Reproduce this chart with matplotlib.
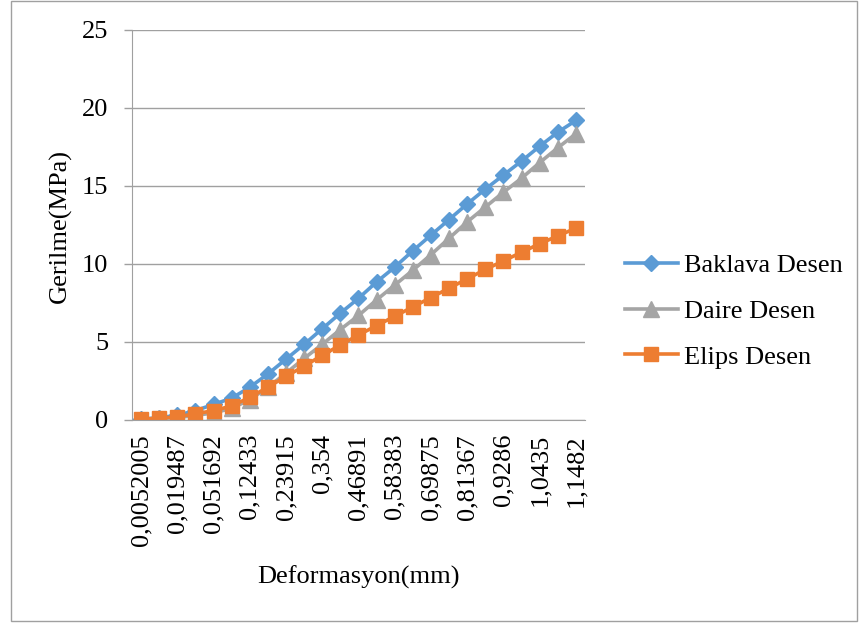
import matplotlib
matplotlib.use("Agg")
import matplotlib.pyplot as plt
import numpy as np

# 25 measurement points, only every other one is labelled on the axis
tick_labels = ["0,0052005", "0,019487", "0,051692", "0,12433", "0,23915", "0,354",
               "0,46891", "0,58383", "0,69875", "0,81367", "0,9286", "1,0435", "1,1482"]

baklava = [0.05, 0.15, 0.3, 0.6, 1.0, 1.4, 2.1, 2.95, 3.9, 4.85, 5.85, 6.85, 7.8,
           8.85, 9.8, 10.85, 11.85, 12.85, 13.85, 14.8, 15.7, 16.6, 17.55, 18.45, 19.2]
daire = [0.03, 0.1, 0.15, 0.3, 0.45, 0.75, 1.3, 2.1, 3.0, 3.95, 4.85, 5.8, 6.7,
         7.7, 8.65, 9.6, 10.6, 11.65, 12.7, 13.65, 14.6, 15.5, 16.5, 17.45, 18.35]
elips = [0.05, 0.12, 0.2, 0.4, 0.6, 0.9, 1.45, 2.1, 2.8, 3.45, 4.15, 4.8, 5.45,
         6.05, 6.65, 7.25, 7.85, 8.45, 9.05, 9.65, 10.2, 10.75, 11.3, 11.8, 12.3]

plt.rcParams['font.family'] = ['Liberation Serif', 'DejaVu Serif']
fs = 19

fig = plt.figure(figsize=(8.62, 6.25), dpi=100)
ax = fig.add_axes([132/862, 1-420/625, 453/862, 390/625])

x = np.arange(len(baklava))
ax.plot(x, baklava, color='#5B9BD5', lw=2.6, marker='D', ms=8.5, label='Baklava Desen')
ax.plot(x, daire, color='#A5A5A5', lw=2.6, marker='^', ms=11, label='Daire Desen')
ax.plot(x, elips, color='#ED7D31', lw=2.6, marker='s', ms=10, label='Elips Desen')

ax.set_xlim(-0.5, len(x) - 0.5)
ax.set_ylim(0, 25)
ax.set_yticks(range(0, 26, 5))
ax.set_xticks(x[::2])
ax.set_xticklabels(tick_labels, rotation=90, fontsize=fs)
ax.tick_params(axis='x', length=0, pad=10)
ax.tick_params(axis='y', labelsize=fs, length=6, width=1, color='#a0a0a0', pad=11)

ax.grid(axis='y', color='#a0a0a0', lw=1)
ax.set_axisbelow(True)
for s in ['top', 'right']:
    ax.spines[s].set_visible(False)
for s in ['left', 'bottom']:
    ax.spines[s].set_color('#a0a0a0')

fig.text(60/862, 1-226/625, 'Gerilme(MPa)', fontsize=fs, rotation=90, ha='center', va='center')
fig.text(358/862, 1-577/625, 'Deformasyon(mm)', fontsize=fs, ha='center', va='center')

fig.legend(loc='center left', bbox_to_anchor=(625/862, 1-311/625), frameon=False,
           fontsize=fs, handlelength=2.0, handletextpad=0.25, labelspacing=0.85,
           borderpad=0, borderaxespad=0)

# outer chart border
fig.patches.append(plt.Rectangle((11/862, 4/625), 846/862, 620/625, transform=fig.transFigure,
                                 fill=False, edgecolor='#a0a0a0', lw=1))

fig.savefig('out.png', dpi=100)
